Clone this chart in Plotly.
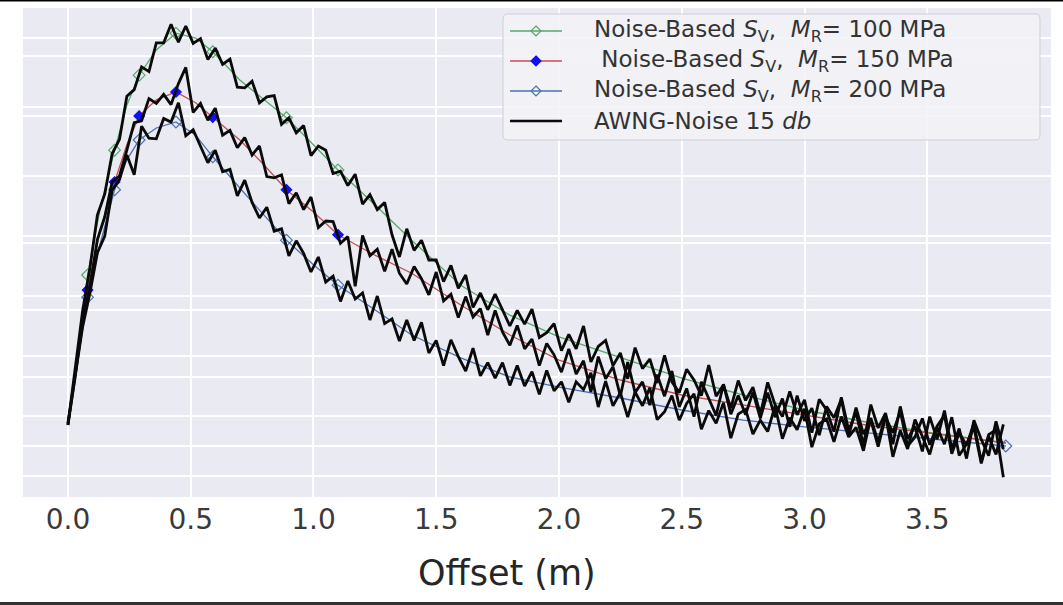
import plotly.graph_objects as go

# ---------------- data ----------------
offset_smooth = [0.00, 0.08, 0.13, 0.19, 0.24, 0.29, 0.36, 0.44, 0.52, 0.59, 0.70, 0.80, 0.89,
                 1.00, 1.10, 1.25, 1.40, 1.60, 1.80, 2.00, 2.25, 2.50, 2.75, 3.00, 3.25, 3.50, 3.82]

sv_100 = [0.85, 3.35, 4.43, 5.43, 6.18, 6.68, 7.10, 7.38, 7.30, 7.07, 6.60, 6.27, 5.97,
          5.52, 5.10, 4.52, 3.93, 3.18, 2.68, 2.32, 1.97, 1.63, 1.35, 1.10, 0.90, 0.73, 0.55]
sv_150 = [0.85, 3.10, 4.07, 4.90, 5.52, 6.00, 6.27, 6.40, 6.22, 5.98, 5.60, 5.18, 4.77,
          4.40, 4.02, 3.68, 3.38, 2.85, 2.35, 1.93, 1.60, 1.35, 1.18, 1.02, 0.85, 0.72, 0.55]
sv_200 = [0.85, 2.98, 3.85, 4.77, 5.27, 5.60, 5.80, 5.90, 5.68, 5.32, 4.80, 4.35, 3.93,
          3.52, 3.18, 2.77, 2.35, 1.97, 1.65, 1.48, 1.30, 1.10, 0.93, 0.82, 0.72, 0.62, 0.50]

marked_offsets = [0.08, 0.19, 0.29, 0.44, 0.59, 0.89, 1.10]
marked_offsets_200 = [0.08, 0.19, 0.29, 0.44, 0.59, 0.89, 1.10, 3.82]

# noisy (AWNG 15 dB) curves sampled every 0.03 m
offset_noise = [round(i * 0.03, 2) for i in range(128)]

noise_100 = [0.85, 1.77, 2.76, 3.48, 4.35, 4.70, 5.37, 5.61, 6.33, 6.44,
             6.82, 6.74, 7.22, 7.22, 7.53, 7.23, 7.50, 7.21, 7.29, 6.94,
             7.13, 6.86, 6.95, 6.48, 6.47, 6.58, 6.22, 6.32, 6.34, 5.86,
             5.97, 5.72, 5.84, 5.34, 5.50, 5.43, 5.04, 5.08, 4.84, 5.03,
             4.53, 4.69, 4.44, 4.56, 4.02, 3.65, 4.12, 3.76, 3.93, 3.60,
             3.60, 3.24, 3.51, 3.13, 3.35, 2.81, 3.05, 2.77, 3.03, 2.77,
             2.50, 2.76, 2.53, 2.78, 2.31, 2.39, 2.54, 2.09, 2.36, 2.12,
             2.50, 1.90, 2.16, 2.26, 1.84, 2.05, 1.62, 2.14, 1.79, 1.95,
             1.55, 2.01, 1.57, 1.39, 1.78, 1.60, 1.34, 1.85, 1.33, 1.52,
             1.13, 1.59, 1.26, 1.48, 1.03, 1.56, 1.19, 0.99, 1.41, 1.02,
             1.27, 0.72, 1.28, 1.10, 0.74, 1.31, 0.76, 1.06, 0.51, 1.19,
             0.80, 1.05, 0.53, 1.16, 0.62, 0.83, 0.41, 0.99, 0.61, 1.09,
             0.45, 0.79, 0.29, 0.93, 0.61, 0.34, 0.91, 0.45]

noise_150 = [0.85, 1.67, 2.59, 3.17, 3.94, 4.32, 4.90, 5.00, 5.43, 5.89,
             5.92, 6.29, 6.21, 6.36, 6.19, 6.54, 6.81, 6.06, 6.21, 5.93,
             6.13, 5.68, 5.76, 5.47, 5.64, 5.35, 5.50, 4.99, 4.97, 5.02,
             4.54, 4.72, 4.44, 4.65, 4.14, 4.25, 4.24, 3.88, 3.99, 3.16,
             4.01, 3.67, 3.78, 3.41, 3.78, 3.38, 3.20, 3.49, 3.29, 3.02,
             3.40, 2.92, 3.03, 2.64, 2.99, 2.65, 2.79, 2.35, 2.76, 2.40,
             2.18, 2.51, 2.12, 2.28, 1.84, 2.21, 2.02, 1.73, 2.12, 1.70,
             1.92, 1.40, 1.99, 1.62, 1.82, 1.33, 1.90, 1.39, 1.57, 1.18,
             1.69, 1.33, 1.75, 1.15, 1.46, 0.99, 1.57, 1.28, 1.01, 1.53,
             1.03, 1.34, 1.02, 1.40, 0.96, 1.39, 0.98, 1.29, 0.82, 1.34,
             0.92, 1.13, 0.68, 1.16, 0.97, 1.28, 0.67, 1.14, 0.70, 0.93,
             0.49, 0.98, 0.72, 1.08, 0.50, 0.65, 0.96, 0.52, 0.83, 1.01,
             0.37, 0.72, 0.51, 0.88, 0.24, 0.69, 0.77, -0.02]

noise_200 = [0.88, 1.66, 2.49, 3.06, 3.72, 4.00, 4.76, 4.94, 5.35, 5.02,
             5.83, 5.63, 5.62, 5.96, 5.90, 6.22, 5.67, 5.77, 5.48, 5.22,
             5.43, 5.07, 5.11, 4.67, 4.93, 4.56, 4.30, 4.48, 4.08, 4.12,
             3.67, 3.92, 3.71, 3.40, 3.65, 3.23, 3.33, 2.91, 3.25, 2.95,
             3.05, 2.60, 3.00, 2.54, 2.62, 2.25, 2.60, 2.26, 2.56, 2.05,
             2.26, 1.84, 2.27, 1.99, 1.75, 2.13, 1.67, 1.89, 1.63, 1.89,
             1.51, 1.84, 1.50, 1.74, 1.36, 1.76, 1.42, 1.57, 1.23, 1.57,
             1.44, 1.72, 1.15, 1.58, 1.17, 1.39, 0.98, 1.40, 1.17, 1.47,
             0.94, 1.07, 1.34, 0.93, 1.21, 1.37, 0.78, 1.09, 0.88, 1.22,
             0.63, 1.03, 1.11, 0.70, 0.93, 0.74, 1.17, 0.62, 0.97, 0.77,
             1.12, 0.48, 0.87, 0.95, 0.57, 0.99, 0.65, 0.81, 0.42, 0.97,
             0.57, 1.02, 0.32, 0.76, 0.45, 0.94, 0.66, 0.36, 0.81, 0.53,
             0.98, 0.34, 0.53, 0.81, 0.21, 0.66, 0.36, 0.86]

x_tick_vals = [0.0, 0.5, 1.0, 1.5, 2.0, 2.5, 3.0, 3.5]
x_tick_text = ["0.0", "0.5", "1.0", "1.5", "2.0", "2.5", "3.0", "3.5"]
y_grid_vals = [0.0, 0.5, 1.0, 1.65, 2.0, 2.77, 3.0, 3.88, 4.0, 5.0, 6.0, 6.15, 7.0, 7.3]

names = ["Noise-Based <i>S</i><sub>V</sub>,\u00a0\u00a0<i>M</i><sub>R</sub>= 100 MPa",
         "\u00a0Noise-Based <i>S</i><sub>V</sub>,\u00a0\u00a0<i>M</i><sub>R</sub>= 150 MPa",
         "Noise-Based <i>S</i><sub>V</sub>,\u00a0\u00a0<i>M</i><sub>R</sub>= 200 MPa"]
noise_name = "AWNG-Noise 15 <i>db</i>"

# ---------------- figure ----------------
GREEN = "#55A868"
RED = "#C44E52"
BLUE = "#4C72B0"
BLACK = "#0a0a0a"

W, H = 1063, 605
ML, MR, MT, MB = 23, 12, 8, 108
PW, PH = W - ML - MR, H - MT - MB


def px_x(px):
    return (px - ML) / PW


def px_y(py):
    return (H - MB - py) / PH


fig = go.Figure()

smooth_sets = [
    (sv_100, GREEN, "diamond-open", GREEN, marked_offsets, names[0]),
    (sv_150, RED, "diamond", "#1010F0", marked_offsets, names[1]),
    (sv_200, BLUE, "diamond-open", BLUE, marked_offsets_200, names[2]),
]

for vals, col, sym, mcol, marks, nm in smooth_sets:
    fig.add_trace(go.Scatter(x=offset_smooth, y=vals, mode="lines", name=nm,
                             line=dict(color=col, width=1.3), showlegend=False, hoverinfo="skip"))
    mx = [x for x in offset_smooth if x in marks]
    my = [v for x, v in zip(offset_smooth, vals) if x in marks]
    fig.add_trace(go.Scatter(x=mx, y=my, mode="markers", name=nm, showlegend=False, hoverinfo="skip",
                             marker=dict(symbol=sym, size=9 if sym.endswith("open") else 8,
                                         color=mcol, line=dict(width=1.2, color=mcol))))

for i, vals in enumerate([noise_100, noise_150, noise_200]):
    fig.add_trace(go.Scatter(x=offset_noise, y=vals, mode="lines", name=noise_name,
                             line=dict(color=BLACK, width=2.8), showlegend=False, hoverinfo="skip"))

# ---------------- hand-built legend (matplotlib style) ----------------
shapes = []
annotations = []

bx0, bx1, by0, by1, rad = 503, 1040, 14, 140, 5
rx, ry = rad / PW, rad / PH
X0, X1, Y0, Y1 = px_x(bx0), px_x(bx1), px_y(by1), px_y(by0)
box_path = (f"M{X0 + rx},{Y0} L{X1 - rx},{Y0} Q{X1},{Y0} {X1},{Y0 + ry} "
            f"L{X1},{Y1 - ry} Q{X1},{Y1} {X1 - rx},{Y1} L{X0 + rx},{Y1} "
            f"Q{X0},{Y1} {X0},{Y1 - ry} L{X0},{Y0 + ry} Q{X0},{Y0} {X0 + rx},{Y0} Z")
shapes.append(dict(type="path", xref="paper", yref="paper", path=box_path,
                   fillcolor="rgba(242,242,247,0.85)", line=dict(color="#cfcfd6", width=1), layer="above"))

row_y = [31, 61, 91, 121]
line_x0, line_x1, mark_x = 510, 562, 536
text_x = 593
legend_items = [
    (GREEN, 1.3, "diamond", "rgba(0,0,0,0)", GREEN, names[0]),
    (RED, 1.3, "diamond", "#1010F0", "#1010F0", names[1]),
    (BLUE, 1.3, "diamond", "rgba(0,0,0,0)", BLUE, names[2]),
    (BLACK, 2.6, None, None, None, noise_name),
]
for (lc, lw, sym, fillc, edgec, label), ry_px in zip(legend_items, row_y):
    yy = px_y(ry_px)
    shapes.append(dict(type="line", xref="paper", yref="paper", x0=px_x(line_x0), x1=px_x(line_x1),
                       y0=yy, y1=yy, line=dict(color=lc, width=lw), layer="above"))
    if sym:
        shapes.append(dict(type="path", xref="paper", yref="paper", xsizemode="pixel", ysizemode="pixel",
                           xanchor=px_x(mark_x), yanchor=yy, path="M0,5 L5,0 L0,-5 L-5,0 Z",
                           fillcolor=fillc, line=dict(color=edgec, width=1.2), layer="above"))
    annotations.append(dict(text=label, xref="paper", yref="paper", x=px_x(text_x), y=yy,
                            xanchor="left", yanchor="middle", showarrow=False, borderpad=0,
                            font=dict(size=23, color="#333333", family="DejaVu Sans")))

annotations.append(dict(text="Offset (m)", xref="paper", yref="paper", x=px_x(507), y=px_y(573),
                        xanchor="center", yanchor="middle", showarrow=False,
                        font=dict(size=35, color="#262626", family="DejaVu Sans")))

# image frame lines (top and bottom)
shapes.append(dict(type="line", xref="paper", yref="paper", x0=px_x(0), x1=px_x(W), y0=px_y(0.5), y1=px_y(0.5),
                   line=dict(color="black", width=2)))
shapes.append(dict(type="line", xref="paper", yref="paper", x0=px_x(0), x1=px_x(W), y0=px_y(603.5), y1=px_y(603.5),
                   line=dict(color="#333333", width=3)))

fig.update_layout(
    width=W, height=H,
    margin=dict(l=ML, r=MR, t=MT, b=MB),
    paper_bgcolor="white",
    plot_bgcolor="#EAEAF2",
    font=dict(family="DejaVu Sans", color="#333333"),
    showlegend=False,
    xaxis=dict(range=[-0.183, 4.004], tickvals=x_tick_vals, ticktext=x_tick_text,
               showgrid=True, gridcolor="white", gridwidth=1.6, zeroline=False,
               showline=False, ticks="", tickfont=dict(size=28, color="#3a3a3a"),
               ticklabelstandoff=3, automargin=False),
    yaxis=dict(range=[-0.35, 7.8], tickvals=y_grid_vals, showticklabels=False,
               showgrid=True, gridcolor="white", gridwidth=1.6, zeroline=False,
               showline=False, ticks="", automargin=False),
    annotations=annotations,
    shapes=shapes,
)

fig.write_html("out.html", config={"displayModeBar": False},
               post_script="document.body.style.margin='0';document.body.style.overflow='hidden';")
